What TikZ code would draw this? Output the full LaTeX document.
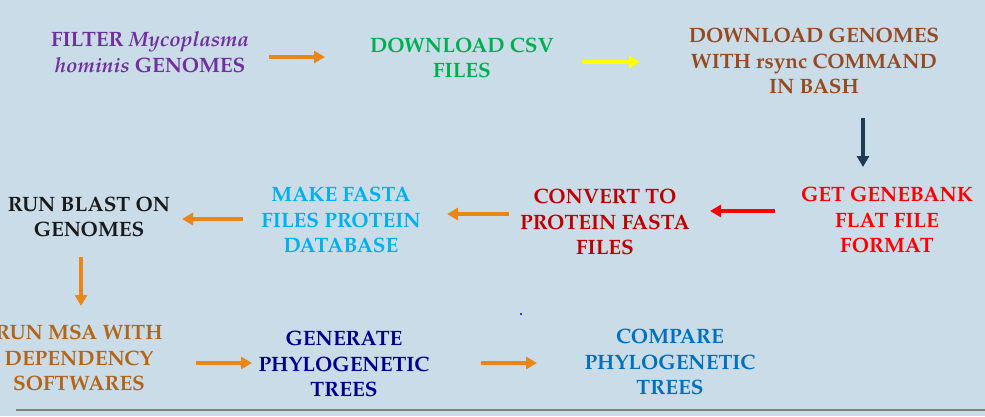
\documentclass[tikz,border=0pt]{standalone}
\usepackage{fontspec}
\setmainfont{TeX Gyre Pagella}
\usetikzlibrary{arrows.meta}

\definecolor{bg}{HTML}{CADCE8}
\definecolor{cpurple}{HTML}{7030A0}
\definecolor{cgreen}{HTML}{00B050}
\definecolor{cbrown}{HTML}{964A22}
\definecolor{cred}{HTML}{FF0000}
\definecolor{cdred}{HTML}{C00000}
\definecolor{clblue}{HTML}{00B0F0}
\definecolor{cblack}{HTML}{1A1A1A}
\definecolor{cochre}{HTML}{B3661A}
\definecolor{cnavy}{HTML}{000090}
\definecolor{cblue}{HTML}{0070C0}
\definecolor{corange}{HTML}{E8861A}
\definecolor{cyellow}{HTML}{FFFF00}
\definecolor{cslate}{HTML}{1F3A52}

\tikzset{
  stepbox/.style={inner sep=0pt, align=center, font=\fontsize{20.8}{25.5}\selectfont\bfseries},
  flow/.style={line width=4pt, -{Triangle[length=11pt,width=12pt]}, draw=#1},
  flow/.default=corange
}

\begin{document}
\begin{tikzpicture}[x=1pt,y=-1pt]
  \fill[bg] (0,0) rectangle (985,416);
  \useasboundingbox (0,0) rectangle (985,416);

  % steps
  \node[stepbox, text=cpurple] (filter) at (150,52) {FILTER \textit{Mycoplasma}\\\textit{hominis} GENOMES};
  \node[stepbox, text=cgreen] (csv) at (462,58) {DOWNLOAD CSV\\FILES};
  \node[stepbox, text=cbrown] (rsync) at (814,61) {DOWNLOAD GENOMES\\WITH rsync COMMAND\\IN BASH};
  \node[stepbox, text=cred] (genbank) at (887,220) {GET GENEBANK\\FLAT FILE\\FORMAT};
  \node[stepbox, text=cdred] (convert) at (605,222) {CONVERT TO\\PROTEIN FASTA\\FILES};
  \node[stepbox, text=clblue] (makedb) at (341,220) {MAKE FASTA\\FILES PROTEIN\\DATABASE};
  \node[stepbox, text=cblack] (blast) at (89,217) {RUN BLAST ON\\GENOMES};
  \node[stepbox, text=cochre] (msa) at (79,358) {RUN MSA WITH\\DEPENDENCY\\SOFTWARES};
  \node[stepbox, text=cnavy] (gentree) at (344,364) {GENERATE\\PHYLOGENETIC\\TREES};
  \node[stepbox, text=cblue] (cmptree) at (670,362) {COMPARE\\PHYLOGENETIC\\TREES};

  % arrow end points
  \coordinate (a1s) at (269,57);  \coordinate (a1e) at (325,57);
  \coordinate (a2s) at (582,62);  \coordinate (a2e) at (640,62);
  \coordinate (a3s) at (863,118); \coordinate (a3e) at (863,167);
  \coordinate (a4s) at (775,211); \coordinate (a4e) at (710,211);
  \coordinate (a5s) at (509,214); \coordinate (a5e) at (447,214);
  \coordinate (a6s) at (243,219); \coordinate (a6e) at (182,219);
  \coordinate (a7s) at (81,257);  \coordinate (a7e) at (81,306);
  \coordinate (a8s) at (196,363); \coordinate (a8e) at (252,363);
  \coordinate (a9s) at (481,363); \coordinate (a9e) at (537,363);

  \draw[flow] (a1s) -- (a1e);
  \draw[flow=cyellow] (a2s) -- (a2e);
  \draw[flow=cslate] (a3s) -- (a3e);
  \draw[flow=cred] (a4s) -- (a4e);
  \draw[flow] (a5s) -- (a5e);
  \draw[flow] (a6s) -- (a6e);
  \draw[flow] (a7s) -- (a7e);
  \draw[flow] (a8s) -- (a8e);
  \draw[flow] (a9s) -- (a9e);

  % stray dot and bottom rule
  \fill[blue] (521,314) circle (1.2);
  \coordinate (ruleL) at (16,410);
  \coordinate (ruleR) at (985,410);
  \draw[gray, line width=1.2pt] (ruleL) -- (ruleR);
\end{tikzpicture}
\end{document}
